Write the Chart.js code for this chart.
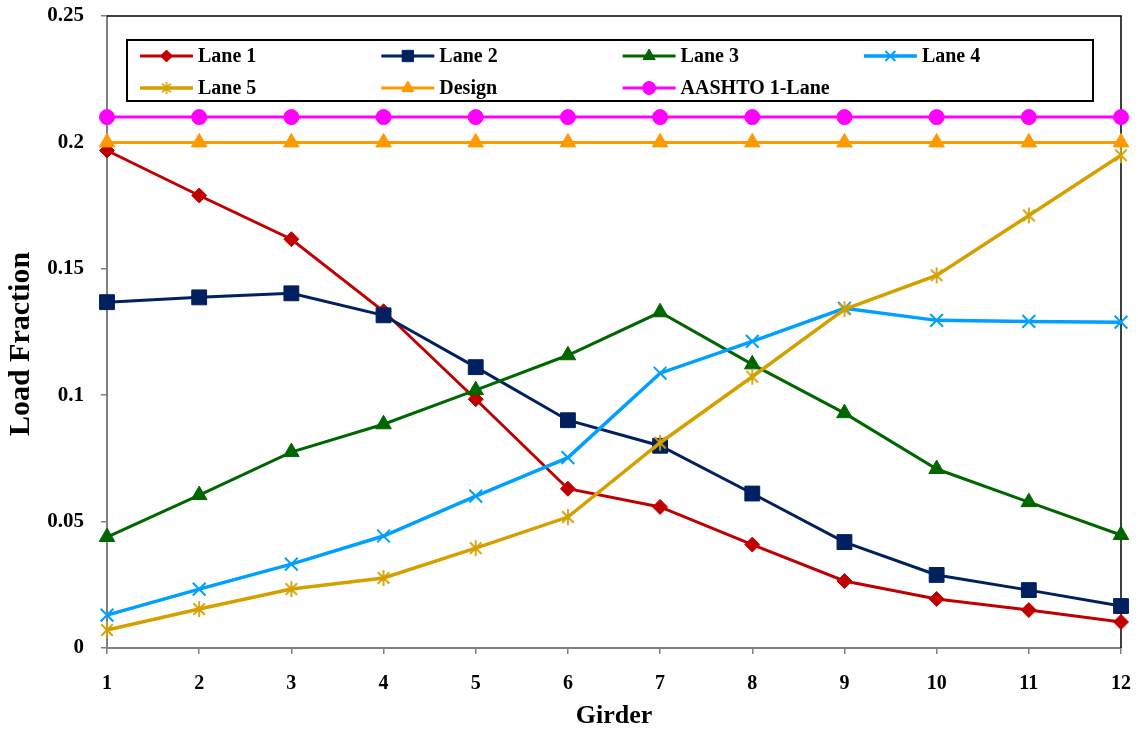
<!DOCTYPE html>
<html><head><meta charset="utf-8">
<script src="https://cdn.jsdelivr.net/npm/chart.js@4/dist/chart.umd.min.js"></script>
<style>html,body{margin:0;padding:0;background:#fff;}#wrap{width:1138px;height:734px;}</style>
</head><body><div id="wrap"><canvas id="c" width="1138" height="734"></canvas></div>
<script>
const girders = ['1','2','3','4','5','6','7','8','9','10','11','12'];
const lane1 = [0.1968,0.1790,0.1617,0.1332,0.0984,0.0630,0.0558,0.0409,0.0265,0.0194,0.0150,0.0103];
const lane2 = [0.1368,0.1387,0.1403,0.1316,0.1111,0.0901,0.0800,0.0611,0.0419,0.0289,0.0229,0.0166];
const lane3 = [0.0439,0.0605,0.0775,0.0885,0.1020,0.1158,0.1328,0.1122,0.0929,0.0708,0.0577,0.0447];
const lane4 = [0.0130,0.0233,0.0332,0.0443,0.0601,0.0753,0.1087,0.1213,0.1344,0.1296,0.1292,0.1289];
const lane5 = [0.0071,0.0154,0.0233,0.0277,0.0395,0.0518,0.0812,0.1073,0.1340,0.1474,0.1711,0.1949];
const design = [0.2,0.2,0.2,0.2,0.2,0.2,0.2,0.2,0.2,0.2,0.2,0.2];
const aashto = [0.21,0.21,0.21,0.21,0.21,0.21,0.21,0.21,0.21,0.21,0.21,0.21];
const seriesNames = ['Lane 1','Lane 2','Lane 3','Lane 4','Lane 5','Design','AASHTO 1-Lane'];
const yTickLabels = ['0','0.05','0.1','0.15','0.2','0.25'];
const xTitle = 'Girder';
const yTitle = 'Load Fraction';

const FONT = "'Liberation Serif','Times New Roman',serif";

function makeStar(size, color, lw) {
  const c = document.createElement('canvas'); c.width = c.height = size;
  const x = c.getContext('2d'); x.strokeStyle = color; x.lineWidth = lw; x.lineCap = 'butt';
  const m = size / 2, r = size / 2 - 1, d = r * 0.72;
  x.beginPath();
  x.moveTo(m, m - r); x.lineTo(m, m + r);
  x.moveTo(m - d, m - d); x.lineTo(m + d, m + d);
  x.moveTo(m + d, m - d); x.lineTo(m - d, m + d);
  x.stroke();
  return c;
}
const starBig = makeStar(18, '#D4A000', 1.8);
const starSmall = makeStar(14, '#D4A000', 1.6);

const styles = [
  {color:'#C00000', ps:'rectRot', r:7.5, lw:3},
  {color:'#002060', ps:'rect', r:10.5, lw:3},
  {color:'#006600', ps:'triangle', r:9, lw:3},
  {color:'#00A0FF', ps:'crossRot', r:9, lw:3.5},
  {color:'#D4A000', ps:starBig, r:9, lw:3.5},
  {color:'#FF9900', ps:'triangle', r:9, lw:3},
  {color:'#FF00FF', ps:'circle', r:7.5, lw:3}
];
const legendStyles = [
  {ps:'rectRot', r:6}, {ps:'rect', r:8}, {ps:'triangle', r:7}, {ps:'crossRot', r:7},
  {ps:starSmall, r:7}, {ps:'triangle', r:7}, {ps:'circle', r:6.5}
];
const allData = [lane1, lane2, lane3, lane4, lane5, design, aashto];

const datasets = allData.map((d, i) => ({
  label: seriesNames[i], data: d,
  borderColor: styles[i].color, backgroundColor: styles[i].color,
  borderWidth: styles[i].lw, pointStyle: styles[i].ps, pointRadius: styles[i].r,
  pointBorderWidth: styles[i].ps === 'crossRot' ? 2 : 1,
  pointBorderColor: styles[i].color, pointBackgroundColor: styles[i].color,
  pointHoverRadius: styles[i].r, tension: 0, clip: false, order: 7 - i
}));

const framePlugin = {
  id: 'frame',
  beforeDatasetsDraw(chart) {
    const {ctx, chartArea: a} = chart;
    ctx.save();
    ctx.strokeStyle = '#000'; ctx.lineWidth = 1.5;
    ctx.beginPath();
    ctx.moveTo(a.left, a.top); ctx.lineTo(a.right, a.top); ctx.lineTo(a.right, a.bottom);
    ctx.stroke();
    ctx.restore();
  },
  afterDraw(chart) {
    const ctx = chart.ctx;
    ctx.save();
    ctx.fillStyle = '#000';
    ctx.textAlign = 'center'; ctx.textBaseline = 'middle';
    ctx.font = 'bold 26px ' + FONT;
    ctx.fillText(xTitle, 614, 716);
    ctx.save();
    ctx.translate(21, 344); ctx.rotate(-Math.PI / 2);
    ctx.font = 'bold 30px ' + FONT;
    ctx.fillText(yTitle, 0, 0);
    ctx.restore();
    // legend
    ctx.fillStyle = '#fff';
    ctx.fillRect(127, 40, 966, 61);
    ctx.strokeStyle = '#000'; ctx.lineWidth = 2;
    ctx.strokeRect(127, 40, 966, 61);
    ctx.font = 'bold 20px ' + FONT;
    ctx.textAlign = 'left'; ctx.textBaseline = 'middle';
    chart.data.datasets.forEach((ds, i) => {
      const col = i % 4, row = Math.floor(i / 4);
      const x0 = 140 + col * 241.3, x1 = x0 + 53, y = 56 + row * 32;
      ctx.strokeStyle = ds.borderColor; ctx.lineWidth = ds.borderWidth;
      ctx.beginPath(); ctx.moveTo(x0, y); ctx.lineTo(x1, y); ctx.stroke();
      ctx.fillStyle = ds.borderColor; ctx.strokeStyle = ds.borderColor;
      ctx.lineWidth = legendStyles[i].ps === 'crossRot' ? 2 : 1;
      Chart.helpers.drawPoint(ctx, {pointStyle: legendStyles[i].ps, radius: legendStyles[i].r, rotation: 0, borderWidth: ctx.lineWidth}, (x0 + x1) / 2, y);
      ctx.fillStyle = '#000';
      ctx.fillText(ds.label, x1 + 5, y + 1);
    });
    ctx.restore();
  }
};

new Chart(document.getElementById('c'), {
  type: 'line',
  data: { labels: girders, datasets },
  options: {
    responsive: false, animation: false, devicePixelRatio: 1,
    layout: { padding: { top: 16, right: 17, left: 0, bottom: 0 } },
    plugins: { legend: { display: false }, tooltip: { enabled: false } },
    scales: {
      x: {
        type: 'category', offset: false,
        grid: { display: true, drawOnChartArea: false, drawTicks: true, tickLength: 6, color: '#808080', lineWidth: 1.5, offset: false },
        border: { display: true, color: '#808080', width: 2 },
        ticks: { color: '#000', font: { family: FONT, size: 20, weight: 'bold' }, padding: 18, maxRotation: 0, autoSkip: false },
        afterFit(s) { s.height = 86; s.paddingLeft = 0; s.paddingRight = 0; }
      },
      y: {
        min: 0, max: 0.25,
        grid: { display: true, drawOnChartArea: false, drawTicks: true, tickLength: 6, color: '#808080', lineWidth: 1.5 },
        border: { display: true, color: '#808080', width: 2 },
        ticks: { stepSize: 0.05, color: '#000', font: { family: FONT, size: 21, weight: 'bold' }, padding: 17,
          callback: (v, i) => yTickLabels[i] },
        afterFit(s) { s.width = 107; s.paddingTop = 0; s.paddingBottom = 0; }
      }
    }
  },
  plugins: [framePlugin]
});
</script></body></html>
